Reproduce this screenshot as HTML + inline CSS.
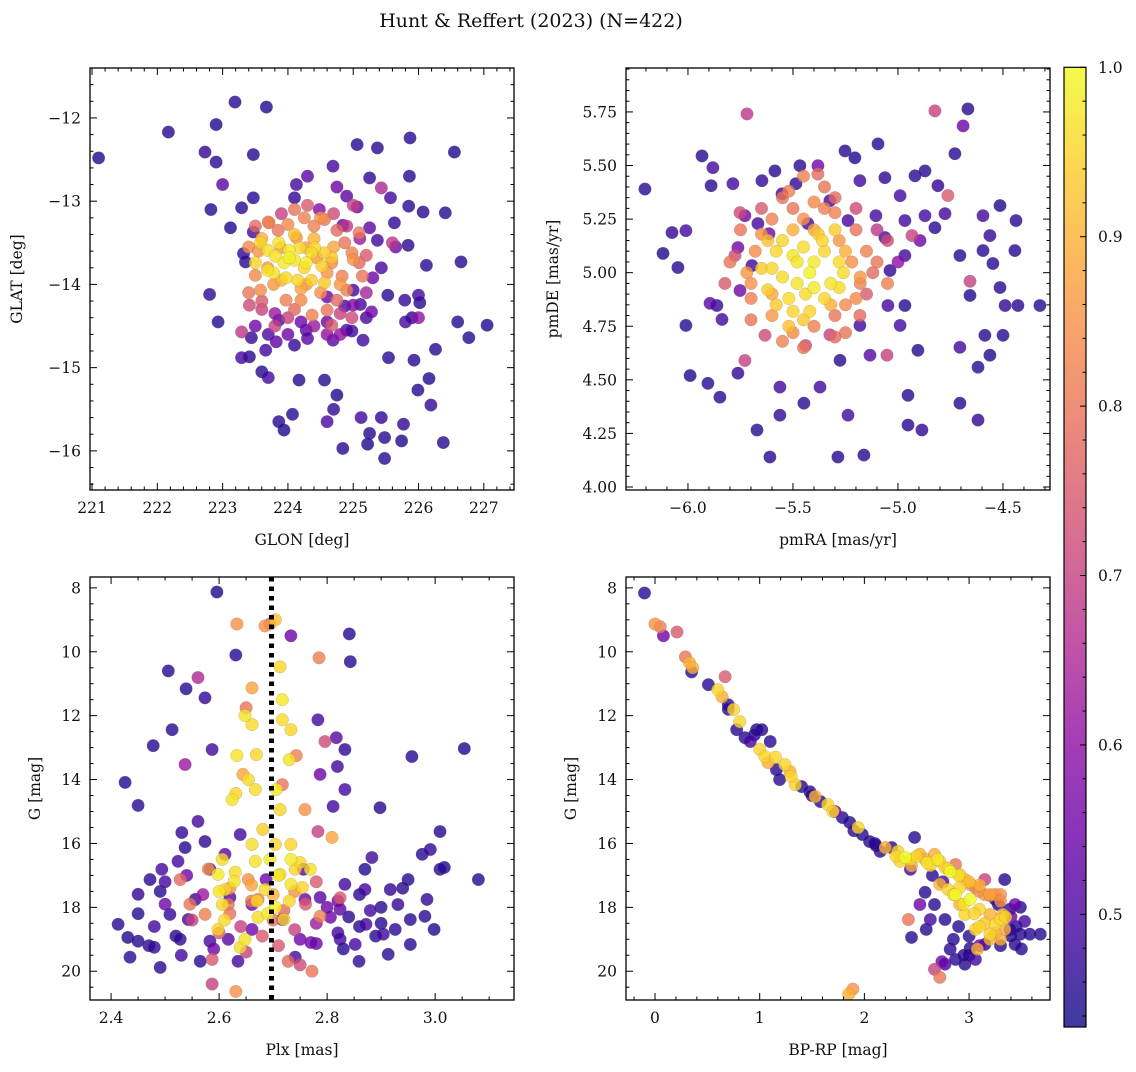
<!DOCTYPE html>
<html><head><meta charset="utf-8"><style>
html,body{margin:0;padding:0;background:#fff}
svg text{font-family:"DejaVu Serif","Liberation Serif",serif;fill:#111}
</style></head><body>
<svg id="fig" width="1136" height="1067" viewBox="0 0 1136 1067" xmlns="http://www.w3.org/2000/svg">
<defs>
<linearGradient id="cbgrad" x1="0" y1="1" x2="0" y2="0">
<stop offset="0" stop-color="#0d0887"/><stop offset="0.1" stop-color="#41049d"/><stop offset="0.2" stop-color="#6a00a8"/><stop offset="0.3" stop-color="#8f0da4"/><stop offset="0.4" stop-color="#b12a90"/><stop offset="0.5" stop-color="#cc4778"/><stop offset="0.6" stop-color="#e16462"/><stop offset="0.7" stop-color="#f2844b"/><stop offset="0.8" stop-color="#fca636"/><stop offset="0.9" stop-color="#fcce25"/><stop offset="1" stop-color="#f0f921"/>
</linearGradient>
</defs>
<text x="531" y="27" font-size="19" text-anchor="middle">Hunt &amp; Reffert (2023) (N=422)</text>
</svg>
<script>
// ---------- DATA ----------
const pos_glon = [221.1,222.17,222.9,223.19,223.67,222.73,222.9,223.0,223.47,222.82,223.12,223.29,222.8,222.93,223.29,223.7,224.17,224.1,224.07,223.94,223.86,224.56,224.6,224.7,224.84,224.75,225.12,225.25,225.22,225.48,225.43,225.48,225.54,225.74,225.77,225.93,225.99,226.16,226.26,226.19,226.38,226.77,227.05,226.6,225.8,225.9,226.02,226.41,226.65,226.55,225.86,225.87,225.37,225.06,225.25,225.57,225.85,226.07,225.63,225.65,225.84,225.43,225.53,225.79,225.11,225.28,224.98,224.69,225.15,225.3,226.0,226.12,224.13,224.3,224.1,224.75,224.69,224.9,225.06,223.47,223.47,223.32,223.35,223.41,223.44,223.66,223.82,223.86,223.6,224.6,224.28,224.87,225.0,225.37,225.25,224.84,224.48,
223.29,225.43,225.0,225.6,223.6,224.8,226.0,
223.71,223.85,224.0,224.25,224.56,224.75,224.87,224.98,225.09,225.14,224.9,224.75,224.6,224.37,224.2,223.97,223.78,223.58,223.69,223.5,223.41,224.28,224.6,224.98,224.67,225.09,225.2,223.89,224.13,224.28,224.44,224.67,224.83,223.4,223.55,224.4,224.1,
223.58,223.69,223.81,223.94,224.1,224.25,224.36,224.52,223.86,224.02,224.18,224.41,224.56,223.78,223.97,224.15,224.36,224.56,223.69,223.5,224.67,224.28,224.02,
223.5,223.7,223.9,224.1,224.3,224.5,224.7,224.9,225.1,223.4,223.6,223.8,224.0,224.2,224.4,224.6,224.8,225.0,225.2,223.5,223.7,224.0,224.3,224.6,224.9,225.2,223.9,224.2,224.5,224.8,223.6,224.1,224.4,224.7,225.0,223.8];
const pos_glat = [-12.48,-12.17,-12.08,-11.81,-11.87,-12.41,-12.53,-12.8,-12.44,-13.1,-13.32,-13.08,-14.12,-14.45,-14.88,-15.12,-15.15,-14.73,-15.56,-15.75,-15.65,-15.15,-15.65,-15.5,-15.97,-15.33,-15.6,-15.79,-15.92,-16.09,-15.6,-15.84,-14.88,-15.88,-15.68,-14.91,-15.27,-15.13,-14.78,-15.45,-15.9,-14.64,-14.49,-14.45,-14.45,-14.4,-14.22,-13.14,-13.73,-12.41,-12.7,-12.24,-12.36,-12.32,-12.72,-12.96,-13.06,-13.13,-13.26,-13.55,-13.53,-13.8,-14.13,-14.19,-14.24,-14.33,-14.56,-14.67,-14.67,-13.92,-14.13,-13.77,-12.8,-12.7,-12.96,-12.83,-12.58,-12.94,-13.07,-12.96,-13.37,-13.63,-13.73,-14.87,-14.64,-14.79,-14.69,-14.43,-15.05,-14.15,-14.55,-14.26,-14.07,-13.47,-13.32,-13.29,-13.1,
-14.57,-12.84,-13.05,-13.5,-14.3,-14.6,-14.4,
-13.26,-13.35,-13.28,-13.2,-13.22,-13.35,-13.5,-13.62,-13.74,-13.9,-14.07,-14.19,-14.31,-14.37,-14.19,-14.19,-14.0,-14.07,-13.8,-13.89,-14.25,-14.0,-13.86,-14.4,-14.49,-13.38,-13.65,-13.56,-13.44,-13.56,-13.68,-13.74,-13.9,-13.55,-13.6,-13.3,-14.3,
-13.5,-13.59,-13.66,-13.74,-13.71,-13.8,-13.62,-13.78,-13.5,-13.59,-13.56,-13.56,-13.62,-13.86,-13.92,-13.95,-13.95,-13.98,-13.83,-13.74,-13.68,-13.74,-13.68,
-13.3,-13.25,-13.15,-13.1,-13.05,-13.2,-13.15,-13.3,-13.45,-14.1,-14.2,-14.35,-14.4,-14.45,-14.5,-14.45,-14.35,-14.25,-14.1,-14.5,-14.6,-14.6,-14.65,-14.6,-14.55,-14.4,-13.95,-14.05,-14.1,-14.0,-13.45,-13.4,-13.45,-13.55,-13.7,-14.5];
const pos_prob = [0.45,0.46,0.45,0.46,0.45,0.47,0.46,0.52,0.46,0.46,0.45,0.46,0.47,0.46,0.49,0.49,0.46,0.47,0.46,0.45,0.46,0.46,0.5,0.47,0.46,0.45,0.49,0.46,0.45,0.46,0.47,0.46,0.46,0.45,0.47,0.46,0.46,0.45,0.46,0.47,0.46,0.46,0.45,0.46,0.49,0.47,0.46,0.46,0.46,0.45,0.46,0.46,0.46,0.46,0.47,0.49,0.46,0.46,0.47,0.55,0.46,0.49,0.46,0.47,0.49,0.55,0.49,0.52,0.49,0.55,0.49,0.46,0.49,0.52,0.47,0.55,0.49,0.52,0.55,0.46,0.49,0.47,0.46,0.46,0.47,0.49,0.52,0.49,0.46,0.55,0.52,0.49,0.49,0.49,0.52,0.55,0.58,
0.68,0.65,0.7,0.68,0.7,0.6,0.6,
0.82,0.8,0.84,0.82,0.8,0.78,0.8,0.82,0.78,0.8,0.82,0.78,0.8,0.82,0.84,0.82,0.86,0.84,0.86,0.84,0.72,0.86,0.85,0.72,0.75,0.8,0.75,0.86,0.85,0.87,0.86,0.84,0.82,0.84,0.85,0.82,0.78,
0.95,0.96,0.97,0.98,0.97,0.95,0.96,0.94,0.97,0.98,0.96,0.95,0.94,0.97,0.96,0.95,0.94,0.93,0.97,0.95,0.93,0.98,0.99,
0.78,0.82,0.7,0.8,0.75,0.85,0.72,0.68,0.62,0.8,0.75,0.62,0.7,0.55,0.62,0.55,0.7,0.58,0.64,0.55,0.5,0.55,0.52,0.6,0.5,0.5,0.9,0.88,0.85,0.86,0.9,0.92,0.9,0.88,0.85,0.7];

const pm_ra = [-6.205,-6.076,-6.119,-6.048,-6.01,-6.01,-5.99,-5.905,-5.862,-5.881,-5.933,-5.89,-5.762,-5.786,-5.667,-5.648,-5.586,-5.552,-5.486,-5.467,-5.324,-5.252,-5.205,-5.181,-5.095,-5.062,-4.99,-4.967,-4.919,-4.871,-4.81,-4.776,-4.705,-4.657,-4.595,-4.562,-4.548,-4.514,-4.49,-4.586,-4.562,-4.5,-4.324,-4.438,-4.595,-4.69,-4.667,-4.729,-4.871,-4.824,-4.967,-5.038,-4.967,-4.99,-4.905,-4.886,-4.952,-4.952,-4.705,-4.619,-4.619,-4.705,-4.514,-4.443,-4.895,-5.048,-5.181,-5.276,-5.371,-5.448,-5.562,-5.61,-5.671,-5.562,-5.762,-5.848,-5.895,-5.838,-5.752,-5.695,-5.729,-5.614,-5.429,-5.162,-5.286,-5.238,-5.133,-5.062,-5.105,-5.238,-5.381,-4.429,
-5.719,-4.824,-5.381,-5.752,-5.776,-5.824,-5.729,-5.633,-5.052,-4.657,-4.933,-4.762,-5.181,-5.324,-5.44,
-5.6,-5.5,-5.4,-5.3,-5.2,-5.15,-5.18,-5.2,-5.3,-5.4,-5.5,-5.6,-5.7,-5.72,-5.68,-5.65,-5.35,-5.45,-5.1,-5.05,-5.8,-5.25,-5.55,-5.45,-5.28,-5.25,-5.52,
-5.55,-5.5,-5.45,-5.4,-5.35,-5.3,-5.28,-5.32,-5.4,-5.48,-5.55,-5.6,-5.62,-5.52,-5.42,-5.35,-5.45,-5.5,-5.28,-5.38,-5.58,-5.65,
-5.75,-5.7,-5.65,-5.6,-5.55,-5.5,-5.45,-5.4,-5.35,-5.3,-5.25,-5.2,-5.15,-5.1,-5.05,-5.0,-5.62,-5.48,-5.36,-5.22,-5.12,-5.58,-5.44,-5.32,-5.18,-5.7,-5.3,-5.42,-5.52,-5.26];
const pm_de = [5.39,5.187,5.09,5.024,5.196,4.754,4.52,4.484,4.847,5.49,5.545,5.406,5.117,5.415,5.229,5.429,5.475,5.368,5.415,5.499,5.336,5.568,5.536,5.429,5.601,5.443,5.359,5.243,5.452,5.475,5.406,5.275,5.08,4.894,5.103,5.173,5.043,4.931,4.847,4.708,4.615,4.708,4.847,5.243,5.266,5.685,5.764,5.555,5.266,5.21,5.08,5.01,4.847,4.754,4.638,4.266,4.289,4.428,4.391,4.312,4.559,4.652,5.313,5.103,5.15,4.847,4.754,4.591,4.466,4.391,4.335,4.14,4.266,4.466,4.531,4.419,4.857,4.782,4.917,5.033,5.266,5.182,5.229,4.149,4.14,4.335,4.615,5.164,5.266,5.243,5.499,4.847,
5.741,5.755,5.46,5.28,5.08,4.95,4.59,4.708,4.615,4.96,5.173,5.36,4.8,4.71,4.66,
5.25,5.3,5.33,5.28,5.2,5.1,4.98,4.88,4.8,4.75,4.72,4.8,4.88,5.0,5.1,5.18,5.4,5.45,5.05,4.95,5.05,4.85,4.68,4.65,5.15,4.72,5.38,
5.15,5.08,5.12,5.05,5.1,5.2,5.05,4.95,4.93,4.95,4.98,5.02,4.92,4.88,5.0,4.88,4.78,4.82,4.93,5.18,5.1,5.02,
5.2,4.95,5.3,4.9,5.35,5.2,5.25,5.2,5.3,5.35,5.1,5.3,4.9,5.2,5.15,5.05,5.15,5.05,5.15,5.05,5.0,4.85,4.9,4.85,4.95,4.78,4.7,4.82,4.75,5.0];
const pm_prob = [0.46,0.47,0.45,0.46,0.49,0.46,0.45,0.46,0.47,0.49,0.46,0.46,0.55,0.49,0.49,0.47,0.46,0.49,0.47,0.46,0.49,0.46,0.45,0.49,0.46,0.47,0.49,0.49,0.46,0.46,0.47,0.49,0.46,0.45,0.46,0.47,0.46,0.46,0.47,0.46,0.45,0.46,0.46,0.46,0.49,0.55,0.46,0.46,0.49,0.46,0.49,0.47,0.46,0.49,0.46,0.47,0.46,0.46,0.46,0.47,0.46,0.49,0.45,0.46,0.55,0.49,0.49,0.46,0.49,0.46,0.47,0.46,0.46,0.49,0.47,0.46,0.52,0.49,0.55,0.49,0.55,0.55,0.49,0.46,0.46,0.49,0.52,0.49,0.49,0.49,0.55,0.46,
0.68,0.7,0.78,0.72,0.72,0.75,0.7,0.72,0.7,0.7,0.7,0.75,0.78,0.7,0.72,
0.82,0.8,0.84,0.82,0.8,0.82,0.86,0.84,0.8,0.82,0.84,0.86,0.82,0.86,0.84,0.85,0.8,0.82,0.8,0.82,0.8,0.84,0.82,0.8,0.86,0.8,0.82,
0.95,0.97,0.96,0.98,0.95,0.94,0.96,0.97,0.98,0.97,0.96,0.95,0.94,0.96,0.99,0.95,0.93,0.95,0.96,0.93,0.95,0.94,
0.8,0.85,0.75,0.88,0.8,0.9,0.85,0.88,0.82,0.78,0.9,0.72,0.75,0.68,0.72,0.6,0.92,0.97,0.95,0.85,0.78,0.93,0.96,0.9,0.82,0.8,0.78,0.95,0.92,0.96];

const plx_x = [2.596,2.631,2.841,2.843,2.733,2.506,2.539,2.574,2.513,2.478,2.587,2.426,2.45,3.054,2.783,2.817,2.819,2.833,2.833,2.787,2.811,2.898,2.957,3.009,2.976,2.991,3.017,3.08,2.95,2.931,2.954,2.981,2.998,2.954,2.904,2.872,2.859,2.852,2.913,2.824,2.806,2.787,2.833,2.87,2.883,2.917,2.78,2.741,2.75,2.717,2.661,2.635,2.617,2.565,2.583,2.528,2.491,2.48,2.45,2.431,2.435,2.413,2.45,2.472,2.494,2.524,2.537,2.531,2.561,2.574,2.583,2.556,2.509,2.491,2.543,2.62,2.661,2.687,2.756,2.759,2.824,2.87,2.926,3.009,2.985,2.611,2.639,
2.633,2.694,2.685,2.561,2.661,2.785,2.65,2.796,2.537,2.743,2.644,2.717,2.759,2.783,2.809,2.587,2.631,2.587,2.728,2.772,2.75,2.672,2.617,2.574,2.787,2.824,2.654,2.528,2.546,
2.704,2.713,2.648,2.661,2.669,2.633,2.717,2.717,2.733,2.73,2.654,2.631,2.624,2.667,2.706,2.713,2.661,2.667,2.733,2.733,2.713,2.733,2.741,2.606,2.598,2.611,2.628,2.606,2.598,2.648,2.639,2.72,2.704,2.672,2.769,2.754,2.685,2.694,2.704,2.681,
2.45,2.48,2.5,2.52,2.55,2.57,2.6,2.62,2.64,2.66,2.68,2.7,2.72,2.74,2.76,2.78,2.8,2.82,2.84,2.86,2.88,2.9,2.5,2.54,2.58,2.62,2.66,2.7,2.74,2.78,2.82,2.86,2.9,2.94,2.47,2.53,2.59,2.65,2.71,2.77,2.83,2.89,2.6,2.63,2.67,2.71,2.75,2.61,2.69,2.73];
const plx_g = [8.13,10.1,9.44,10.31,9.5,10.6,11.16,11.44,12.44,12.94,13.06,14.09,14.81,13.03,12.13,12.69,13.59,13.06,14.31,13.84,14.84,14.88,13.28,15.63,16.34,16.19,16.75,17.13,17.13,17.91,18.38,18.28,18.69,19.16,18.84,18.53,19.69,19.16,19.47,19.0,18.31,17.69,17.28,16.81,16.44,17.44,19.13,19.56,19.0,18.38,18.69,19.69,19.0,19.69,19.06,19.0,19.88,19.25,19.06,18.94,19.56,18.53,17.59,17.13,16.81,16.56,16.13,15.66,15.31,15.94,16.81,17.75,18.22,17.5,18.38,17.69,17.91,17.13,16.81,17.75,18.06,17.44,18.69,16.81,17.75,16.34,15.72,
9.13,9.13,9.19,10.81,11.13,10.19,11.75,12.81,13.53,13.25,13.84,14.16,14.94,15.63,15.81,19.63,20.63,20.4,19.69,20.0,19.8,17.75,17.91,18.22,18.28,17.7,17.13,17.13,17.9,
9.0,10.47,12.0,12.28,13.22,13.25,11.5,12.13,12.44,13.38,14.0,14.44,14.63,14.31,14.31,14.94,16.03,16.56,16.03,16.5,16.97,17.28,16.81,16.5,16.97,17.44,17.19,17.91,18.69,19.0,19.25,18.38,18.0,18.31,16.81,17.38,17.44,16.5,16.03,15.56,
18.2,18.6,17.9,18.9,18.4,17.6,18.8,18.2,18.6,17.8,18.9,18.4,18.1,18.7,17.9,18.5,18.0,18.8,18.3,18.6,18.1,18.5,17.2,17.0,16.8,17.4,17.3,17.6,17.5,17.2,17.8,17.6,18.0,17.4,19.2,19.5,19.3,19.4,19.2,19.1,19.3,18.9,17.5,16.9,17.8,17.0,16.6,18.4,18.2,17.8];
const plx_prob = [0.45,0.46,0.46,0.46,0.55,0.46,0.46,0.47,0.46,0.46,0.49,0.45,0.46,0.45,0.49,0.52,0.49,0.47,0.49,0.55,0.49,0.46,0.46,0.46,0.46,0.47,0.45,0.46,0.46,0.47,0.46,0.46,0.45,0.46,0.49,0.49,0.47,0.49,0.46,0.49,0.55,0.52,0.49,0.46,0.49,0.47,0.55,0.49,0.55,0.52,0.55,0.49,0.52,0.46,0.49,0.47,0.46,0.47,0.46,0.45,0.46,0.46,0.47,0.46,0.49,0.49,0.46,0.47,0.49,0.47,0.49,0.49,0.47,0.46,0.49,0.52,0.55,0.55,0.52,0.55,0.52,0.49,0.46,0.46,0.47,0.52,0.49,
0.85,0.8,0.85,0.65,0.88,0.82,0.8,0.72,0.62,0.82,0.88,0.8,0.85,0.7,0.88,0.75,0.85,0.7,0.78,0.8,0.72,0.82,0.8,0.82,0.82,0.75,0.85,0.78,0.8,
0.92,0.95,0.97,0.96,0.95,0.97,0.98,0.96,0.95,0.97,0.96,0.95,0.97,0.96,0.98,0.95,0.96,0.97,0.95,0.98,0.96,0.97,0.95,0.96,0.98,0.95,0.97,0.96,0.95,0.97,0.96,0.95,0.98,0.96,0.97,0.95,0.96,0.98,0.95,0.94,
0.46,0.49,0.55,0.46,0.7,0.62,0.75,0.8,0.7,0.8,0.75,0.8,0.78,0.7,0.75,0.62,0.55,0.49,0.46,0.46,0.49,0.46,0.49,0.55,0.85,0.85,0.88,0.9,0.85,0.75,0.55,0.46,0.46,0.46,0.46,0.49,0.55,0.7,0.75,0.55,0.46,0.46,0.97,0.96,0.95,0.97,0.95,0.96,0.97,0.95];

const cmd_bprp = [-0.1,0,0.05,0.08,0.21,0.29,0.33,0.36,0.35,0.51,0.6,0.64,0.67,0.7,0.75,0.81,0.78,0.86,0.91,0.97,1.02,1.0,1.05,1.08,1.1,1.16,1.24,1.29,1.19,1.34,1.4,1.48,1.53,1.58,1.65,1.72,1.79,1.86,1.94,1.98,2.05,2.11,2.15,2.2,2.26,2.32,2.39,2.44,2.34,2.48,2.53,2.58,2.63,2.67,2.72,2.77,2.82,2.87,2.91,2.96,3.01,3.06,3.1,3.15,3.2,3.25,3.28,3.32,3.39,3.44,3.39,3.49,3.58,3.44,3.3,3.25,3.2,3.15,3.08,3.06,2.96,2.91,2.87,2.8,2.72,2.67,2.77,2.82,2.87,2.96,3.06,3.01,2.77,2.72,2.67,2.74,2.45,2.42,2.59,2.63,2.53,2.58,2.44,1.89,1.85,3.15,3.3,3.34,3.49,3.68,3.53,2.91,3.01,3.1,3.2,3.3,3.34,3.25,
2.5,2.6,2.7,2.8,2.9,3.0,3.1,3.2,3.3,3.4,2.65,2.75,2.85,2.95,3.05,3.15,3.25,3.35,2.9,3.0,3.1,3.2,3.3,3.4,3.0,3.1,2.85,2.95,3.45,3.5,1.3,1.5,1.7,1.9,2.1,0.95,1.15,0.7,2.3,2.45];
const cmd_g = [8.16,9.13,9.22,9.5,9.38,10.16,10.34,10.5,10.63,11.03,11.19,11.41,10.78,11.66,11.81,12.19,12.44,12.69,12.81,12.44,12.44,13.06,13.28,13.47,12.81,13.69,13.53,13.75,14.0,14.16,14.22,14.38,14.53,14.69,14.78,15.0,15.19,15.34,15.5,15.72,15.94,16.06,16.25,16.13,16.13,16.25,16.44,16.5,16.56,15.81,16.34,16.5,16.69,16.34,16.56,16.75,16.88,16.66,16.97,17.13,17.28,17.38,17.5,17.6,17.63,17.6,17.91,18.22,18.06,17.91,18.69,18.84,18.84,19.16,19.0,18.53,18.84,19.16,19.31,18.69,18.22,17.91,17.6,17.44,17.28,17.91,18.38,19.31,19.63,19.78,19.63,19.28,19.78,20.19,19.94,19.7,18.94,18.38,18.69,18.38,17.91,17.53,16.81,20.56,20.72,17.13,17.6,17.13,18.0,18.84,18.44,17.38,17.75,18.06,18.22,18.38,18.69,17.75,
16.4,16.6,16.5,16.8,17.0,17.2,17.3,17.6,17.8,18.3,17.0,17.2,17.6,17.9,18.2,18.5,18.8,18.3,18.6,18.9,18.6,19.0,19.2,18.9,19.5,19.2,19.0,19.5,18.6,19.3,13.9,14.5,15.0,15.6,16.0,12.6,13.3,11.8,16.4,16.7];
const cmd_prob = [0.46,0.85,0.82,0.55,0.75,0.8,0.9,0.9,0.46,0.46,0.95,0.9,0.75,0.46,0.95,0.95,0.46,0.46,0.49,0.46,0.46,0.95,0.95,0.9,0.46,0.46,0.95,0.9,0.46,0.95,0.46,0.46,0.9,0.46,0.95,0.55,0.46,0.46,0.95,0.46,0.46,0.46,0.46,0.9,0.46,0.95,1.0,0.95,0.95,0.46,0.9,0.9,0.95,0.9,0.95,0.95,1.0,0.8,0.95,0.9,0.85,0.8,0.85,0.85,0.8,0.85,0.46,0.9,0.46,0.55,0.46,0.46,0.46,0.46,0.9,0.95,0.95,0.46,0.9,0.95,0.95,0.9,1.0,0.95,0.9,0.46,0.46,0.46,0.46,0.46,0.49,0.46,0.49,0.8,0.7,0.55,0.46,0.8,0.46,0.49,0.55,0.46,0.49,0.85,0.9,0.7,0.85,0.46,0.46,0.46,0.49,0.95,1.0,0.95,0.9,0.95,0.9,0.46,
0.95,0.97,0.98,0.95,0.96,0.92,0.9,0.88,0.85,0.55,0.46,0.49,0.95,0.97,0.95,0.93,0.9,0.95,0.46,0.46,0.95,0.9,0.46,0.46,0.46,0.55,0.46,0.46,0.46,0.46,0.95,0.46,0.95,0.46,0.46,0.46,0.95,0.46,0.95,0.9];

const cb_ticks = [0.5,0.6,0.7,0.8,0.9,1.0];
const VMIN = 0.4335, VMAX = 1.0;

// ---------- HELPERS ----------
const NS = "http://www.w3.org/2000/svg";
const svg = document.getElementById('fig');
function mk(tag, attrs, parent){ const e=document.createElementNS(NS,tag); for(const k in attrs) e.setAttribute(k,attrs[k]); (parent||svg).appendChild(e); return e; }
const PL = [[13,8,135],[65,4,157],[106,0,168],[143,13,164],[177,42,144],[204,71,120],[225,100,98],[242,132,75],[252,166,54],[252,206,37],[240,249,33]];
function cmap(p){ let t=(p-VMIN)/(VMAX-VMIN); t=Math.max(0,Math.min(1,t))*10; const i=Math.min(9,Math.floor(t)), f=t-i; const a=PL[i], b=PL[i+1]; return 'rgb('+[0,1,2].map(k=>Math.round(a[k]+(b[k]-a[k])*f)).join(',')+')'; }
function fmt(v,d){ const s=v.toFixed(d); return s.replace('-','\u2212'); }

function makeAxes(cfg){
  const g = mk('g',{});
  
  
  const sx = v => cfg.x0 + (v-cfg.xmin)/(cfg.xmax-cfg.xmin)*(cfg.x1-cfg.x0);
  const sy = v => cfg.y0 + (v-cfg.ytop)/(cfg.ybot-cfg.ytop)*(cfg.y1-cfg.y0);
  const idx = cfg.xs.map((_,i)=>i).sort((a,b)=>cfg.ps[a]-cfg.ps[b]);
  const pg = mk('g',{},g);
  
  
  idx.forEach(i=>{
    const c = mk('circle',{cx:sx(cfg.xs[i]).toFixed(1), cy:sy(cfg.ys[i]).toFixed(1), r:6.3, fill:cmap(cfg.ps[i]), 'fill-opacity':0.8, stroke:'#666', 'stroke-opacity':0.35, 'stroke-width':0.5},pg);
    
    
  });
  if(cfg.vline!==undefined){
    const l = mk('line',{x1:sx(cfg.vline),x2:sx(cfg.vline),y1:cfg.y0,y2:cfg.y1,stroke:'#000','stroke-width':5,'stroke-dasharray':'4.5,5'},g);
    
    
  }
  const fr = mk('rect',{x:cfg.x0,y:cfg.y0,width:cfg.x1-cfg.x0,height:cfg.y1-cfg.y0,fill:'none',stroke:'#000','stroke-width':1.3},g);
  
  
  const lo = Math.min(cfg.ytop,cfg.ybot), hi=Math.max(cfg.ytop,cfg.ybot);
  const eps=1e-9;
  for(let v=Math.ceil(cfg.xmin/cfg.xminor-eps)*cfg.xminor; v<=cfg.xmax+eps; v+=cfg.xminor){
    const X=sx(v); const major=Math.abs(v/cfg.xmajor-Math.round(v/cfg.xmajor))<1e-6; const L=major?7:3.5;
    mk('line',{x1:X,x2:X,y1:cfg.y1,y2:cfg.y1-L,stroke:'#000','stroke-width':1},g);
    mk('line',{x1:X,x2:X,y1:cfg.y0,y2:cfg.y0+L,stroke:'#000','stroke-width':1},g);
    if(major){ const t=mk('text',{x:X,y:cfg.y1+23,'font-size':15.5,'text-anchor':'middle'},g); t.textContent=fmt(v,cfg.xdec);
        }
  }
  for(let v=Math.ceil(lo/cfg.yminor-eps)*cfg.yminor; v<=hi+eps; v+=cfg.yminor){
    const Y=sy(v); const major=Math.abs(v/cfg.ymajor-Math.round(v/cfg.ymajor))<1e-6; const L=major?7:3.5;
    mk('line',{x1:cfg.x0,x2:cfg.x0+L,y1:Y,y2:Y,stroke:'#000','stroke-width':1},g);
    mk('line',{x1:cfg.x1,x2:cfg.x1-L,y1:Y,y2:Y,stroke:'#000','stroke-width':1},g);
    if(major){ const t=mk('text',{x:cfg.x0-9,y:Y+5.5,'font-size':15.5,'text-anchor':'end'},g); t.textContent=fmt(v,cfg.ydec);
        }
  }
  const xl=mk('text',{x:(cfg.x0+cfg.x1)/2,y:cfg.y1+55,'font-size':15.5,'text-anchor':'middle'},g); xl.textContent=cfg.xlabel;
   
  const yc=(cfg.y0+cfg.y1)/2;
  const yl=mk('text',{x:cfg.ylx,y:yc,'font-size':15.5,'text-anchor':'middle',transform:'rotate(-90 '+cfg.ylx+' '+yc+')'},g); yl.textContent=cfg.ylabel;
   
}

makeAxes({name:'panel-sky-position',x0:90,x1:514,y0:68,y1:490,xmin:220.969,xmax:227.462,ytop:-11.4,ybot:-16.47,
  xmajor:1,xminor:0.2,ymajor:1,yminor:0.2,xdec:0,ydec:0,xlabel:'GLON [deg]',ylabel:'GLAT [deg]',ylx:22,
  xs:pos_glon,ys:pos_glat,ps:pos_prob});
makeAxes({name:'panel-proper-motion',x0:626,x1:1050,y0:68,y1:490,xmin:-6.295,xmax:-4.276,ytop:5.955,ybot:3.986,
  xmajor:0.5,xminor:0.1,ymajor:0.25,yminor:0.05,xdec:1,ydec:2,xlabel:'pmRA [mas/yr]',ylabel:'pmDE [mas/yr]',ylx:558,
  xs:pm_ra,ys:pm_de,ps:pm_prob});
makeAxes({name:'panel-parallax-magnitude',x0:90,x1:514,y0:577,y1:1000,xmin:2.361,xmax:3.146,ytop:7.66,ybot:20.9,
  xmajor:0.2,xminor:0.05,ymajor:2,yminor:0.5,xdec:1,ydec:0,xlabel:'Plx [mas]',ylabel:'G [mag]',ylx:40,
  xs:plx_x,ys:plx_g,ps:plx_prob,vline:2.697});
makeAxes({name:'panel-color-magnitude',x0:626,x1:1050,y0:577,y1:1000,xmin:-0.277,xmax:3.773,ytop:7.66,ybot:20.9,
  xmajor:1,xminor:0.2,ymajor:2,yminor:0.5,xdec:0,ydec:0,xlabel:'BP-RP [mag]',ylabel:'G [mag]',ylx:576,
  xs:cmd_bprp,ys:cmd_g,ps:cmd_prob});

(function(){
  const x0=1064,x1=1086,y0=67.3,y1=1027;
  const g=mk('g',{});
  
  
  mk('rect',{x:x0,y:y0,width:x1-x0,height:y1-y0,fill:'url(#cbgrad)','fill-opacity':0.8},g);
  mk('rect',{x:x0,y:y0,width:x1-x0,height:y1-y0,fill:'none',stroke:'#000','stroke-width':1.2},g);
  const sy=v=>y1-(v-VMIN)/(VMAX-VMIN)*(y1-y0);
  for(let v=0.44; v<=1.0001; v+=0.02){ const Y=sy(v); const major=Math.abs(v*10-Math.round(v*10))<1e-6;
    mk('line',{x1:x1,x2:x1-(major?6:3.5),y1:Y,y2:Y,stroke:'#000','stroke-width':1},g); }
  cb_ticks.forEach(v=>{ const t=mk('text',{x:x1+12,y:sy(v)+5.5,'font-size':15.5},g); t.textContent=v.toFixed(1);
      });
})();
</script>
</body></html>
